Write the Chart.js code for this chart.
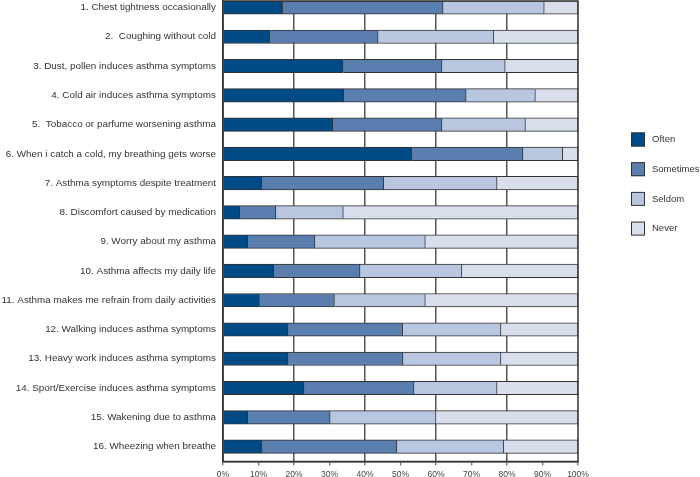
<!DOCTYPE html>
<html>
<head>
<meta charset="utf-8">
<script src="https://cdn.jsdelivr.net/npm/chart.js@4"></script>
<style>
  html, body { margin: 0; padding: 0; background: #fff; }
  #wrap { width: 700px; height: 477px; }
</style>
</head>
<body>
<div id="wrap"><canvas id="chart"></canvas></div>
<script>
const labels = [
  "1. Chest tightness occasionally",
  "2.  Coughing without cold",
  "3. Dust, pollen induces asthma symptoms",
  "4. Cold air induces asthma symptoms",
  "5.  Tobacco or parfume worsening asthma",
  "6. When i catch a cold, my breathing gets worse",
  "7. Asthma symptoms despite treatment",
  "8. Discomfort caused by medication",
  "9. Worry about my asthma",
  "10. Asthma affects my daily life",
  "11. Asthma makes me refrain from daily activities",
  "12. Walking induces asthma symptoms",
  "13. Heavy work induces asthma symptoms",
  "14. Sport/Exercise induces asthma symptoms",
  "15. Wakening due to asthma",
  "16. Wheezing when breathe"
];

const often     = [16.8, 13.3, 33.9, 34.0, 30.9, 53.3, 10.9,  4.7,  7.0, 14.3, 10.3, 18.3, 18.3, 22.8,  7.0, 11.0];
const sometimes = [45.2, 30.4, 27.8, 34.5, 30.8, 31.2, 34.4, 10.2, 18.9, 24.3, 21.1, 32.3, 32.4, 31.0, 23.2, 38.0];
const seldom    = [28.5, 32.6, 17.8, 19.5, 23.5, 11.2, 31.9, 19.0, 31.1, 28.7, 25.6, 27.7, 27.6, 23.4, 29.8, 30.1];
const never     = [ 9.5, 23.7, 20.5, 12.0, 14.8,  4.3, 22.8, 66.1, 43.0, 32.7, 43.0, 21.7, 21.7, 22.8, 40.0, 20.9];

const xTicks = [0, 10, 20, 30, 40, 50, 60, 70, 80, 90, 100];

// rows sit on a linear axis so the first one can hug the top border
function rows(vals) {
  return vals.map((v, i) => ({ x: v, y: i + 1 }));
}

const edge = '#333333';

const frame = {
  id: 'frame',
  afterDatasetsDraw(chart) {
    const a = chart.chartArea, c = chart.ctx;
    c.save();
    c.strokeStyle = edge;
    c.lineWidth = 1.5;
    c.strokeRect(a.left, a.top, a.right - a.left, a.bottom - a.top);
    c.restore();
  }
};

const sideLegend = {
  id: 'sideLegend',
  afterDraw(chart) {
    const c = chart.ctx;
    c.save();
    c.font = '9.5px "Liberation Sans", Arial, sans-serif';
    c.textBaseline = 'middle';
    chart.data.datasets.forEach((ds, i) => {
      const cy = 139.5 + i * 29.7;
      c.fillStyle = ds.backgroundColor;
      c.fillRect(631, cy - 7, 14, 14);
      c.strokeStyle = edge;
      c.lineWidth = 1;
      c.strokeRect(631.5, cy - 6.5, 13, 13);
      c.fillStyle = '#333';
      c.fillText(ds.label, 652, cy);
    });
    c.restore();
  }
};

new Chart(document.getElementById('chart'), {
  type: 'bar',
  data: {
    datasets: [
      { label: 'Often',     data: rows(often),     backgroundColor: '#004a85' },
      { label: 'Sometimes', data: rows(sometimes), backgroundColor: '#5a7eae' },
      { label: 'Seldom',    data: rows(seldom),    backgroundColor: '#b9c6df' },
      { label: 'Never',     data: rows(never),     backgroundColor: '#d8deeb' }
    ]
  },
  options: {
    indexAxis: 'y',
    responsive: true,
    maintainAspectRatio: false,
    animation: false,
    layout: { padding: { top: 1, right: 122, left: 0, bottom: 0 } },
    datasets: {
      bar: { borderColor: edge, borderWidth: 1, barThickness: 13.5 }
    },
    plugins: {
      legend: { display: false },
      tooltip: { enabled: false }
    },
    scales: {
      x: {
        stacked: true,
        min: 0,
        max: 100,
        afterBuildTicks: s => { s.ticks = xTicks.map(v => ({ value: v })); },
        afterFit: s => { s.height = 15.5; },
        border: { color: edge, width: 1.5 },
        grid: {
          color: ctx => (ctx.tick && ctx.tick.value % 20 === 0 && ctx.tick.value > 0 && ctx.tick.value < 100) ? '#555' : 'rgba(0,0,0,0)',
          lineWidth: 1.5,
          tickColor: '#444',
          tickLength: 4,
          tickWidth: 1
        },
        ticks: {
          padding: 4,
          color: '#444',
          font: { family: '"Liberation Sans", Arial, sans-serif', size: 8.5 },
          maxRotation: 0,
          callback: v => v + '%'
        }
      },
      y: {
        type: 'linear',
        stacked: true,
        reverse: true,
        offset: false,
        min: 0.778,
        max: 16.51,
        afterBuildTicks: s => { s.ticks = labels.map((_, i) => ({ value: i + 1 })); },
        afterFit: s => { s.width = 223; s.paddingTop = 0; s.paddingBottom = 0; },
        border: { color: edge, width: 1.5 },
        grid: { display: false, drawTicks: false, offset: false },
        ticks: {
          padding: 7,
          color: '#333',
          font: { family: '"Liberation Sans", Arial, sans-serif', size: 9.9 },
          callback: v => labels[Math.round(v) - 1] || ''
        }
      }
    }
  },
  plugins: [frame, sideLegend]
});
</script>
</body>
</html>
